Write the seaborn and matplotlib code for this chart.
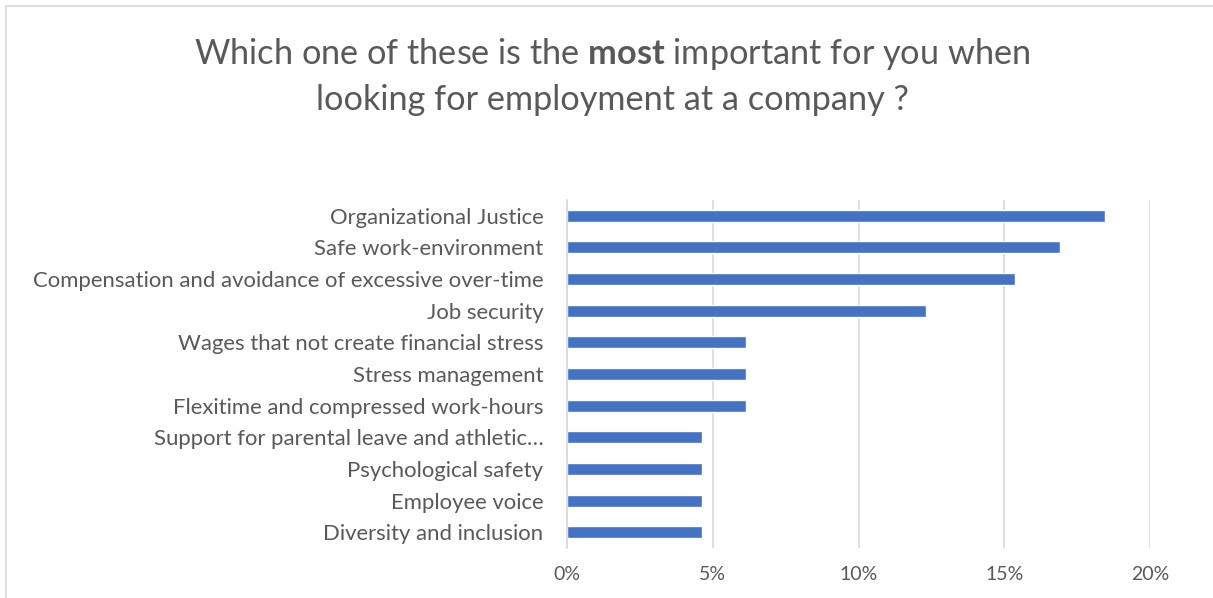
import matplotlib
matplotlib.use("Agg")
import matplotlib.pyplot as plt
from matplotlib.lines import Line2D
from matplotlib.ticker import FuncFormatter
import seaborn as sns
import pandas as pd

# Survey answers: share of respondents naming each factor as the most important
categories = [
    "Organizational Justice",
    "Safe work-environment",
    "Compensation and avoidance of excessive over-time",
    "Job security",
    "Wages that not create financial stress",
    "Stress management",
    "Flexitime and compressed work-hours",
    "Support for parental leave and athletic\u2026",
    "Psychological safety",
    "Employee voice",
    "Diversity and inclusion",
]
shares = [0.1846, 0.1692, 0.1538, 0.1231, 0.0615, 0.0615, 0.0615,
          0.0462, 0.0462, 0.0462, 0.0462]
x_ticks = [0.0, 0.05, 0.10, 0.15, 0.20]

df = pd.DataFrame({"factor": categories, "share": shares})

sns.set_theme(style="white")
plt.rcParams["font.family"] = ["Lato", "DejaVu Sans"]
plt.rcParams["mathtext.fontset"] = "custom"
plt.rcParams["mathtext.rm"] = "Lato"
plt.rcParams["mathtext.bf"] = "Lato:bold"

TEXT = "#595959"
GRID = "#D9D9D9"
BAR = "#4472C4"

fig = plt.figure(figsize=(12.13, 5.98), dpi=100)
ax = fig.add_axes([567 / 1213, 1 - 548 / 598, (1150 - 567) / 1213, 348 / 598])

sns.barplot(data=df, x="share", y="factor", orient="h", color=BAR,
            width=0.38, saturation=1, ax=ax)

ax.set_xlim(0, 0.20)
ax.set_xticks(x_ticks)
ax.xaxis.set_major_formatter(FuncFormatter(lambda v, _: f"{v * 100:.0f}%"))
ax.grid(axis="x", color=GRID, linewidth=1.2)
ax.set_axisbelow(True)
ax.set_xlabel("")
ax.set_ylabel("")
for side in ["top", "right", "bottom"]:
    ax.spines[side].set_visible(False)
ax.spines["left"].set_color(GRID)
ax.spines["left"].set_linewidth(1.2)
ax.tick_params(axis="x", length=0, pad=13, labelsize=14, labelcolor=TEXT)
ax.tick_params(axis="y", length=0, pad=17, labelsize=15.95, labelcolor=TEXT)

fig.text(612 / 1213, 1 - 76 / 598,
         "Which one of these is the $\\mathbf{most}$ important for you when\n"
         "looking for employment at a company ?",
         ha="center", va="center", fontsize=24.7, color=TEXT, linespacing=1.44)

# Chart area outline (top and left edges)
fig.add_artist(Line2D([6 / 1213, 1.0], [1 - 6 / 598, 1 - 6 / 598],
                      transform=fig.transFigure, color=GRID, linewidth=1.2))
fig.add_artist(Line2D([6 / 1213, 6 / 1213], [0.0, 1 - 6 / 598],
                      transform=fig.transFigure, color=GRID, linewidth=1.2))

fig.savefig("out.png", dpi=100, facecolor="white")
